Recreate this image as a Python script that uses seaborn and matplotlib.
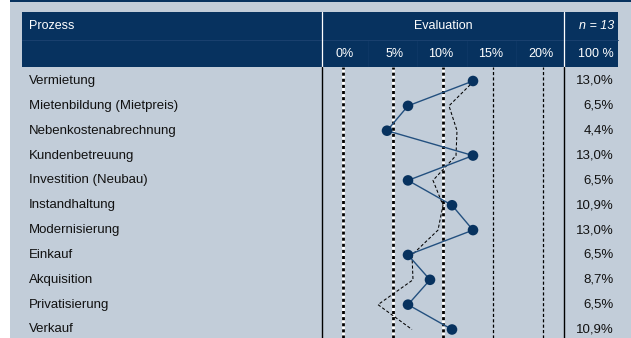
import matplotlib
matplotlib.use("Agg")
import matplotlib.pyplot as plt
from matplotlib.patches import Rectangle
from matplotlib.transforms import blended_transform_factory
import seaborn as sns
import pandas as pd

# ---- data -------------------------------------------------------------
prozesse = [
    "Vermietung",
    "Mietenbildung (Mietpreis)",
    "Nebenkostenabrechnung",
    "Kundenbetreuung",
    "Investition (Neubau)",
    "Instandhaltung",
    "Modernisierung",
    "Einkauf",
    "Akquisition",
    "Privatisierung",
    "Verkauf",
]
anteil = [13.0, 6.5, 4.4, 13.0, 6.5, 10.9, 13.0, 6.5, 8.7, 6.5, 10.9]
vergleich = [13.1, 10.6, 11.4, 11.3, 9.0, 10.0, 9.5, 6.9, 7.0, 3.5, 6.9]
ticks = [0, 5, 10, 15, 20]
tick_labels = ["0%", "5%", "10%", "15%", "20%"]
header_links = "Prozess"
header_mitte = "Evaluation"
header_n = "n = 13"
header_summe = "100 %"

# ---- style ------------------------------------------------------------
sns.set_theme(style="white")
plt.rcParams["font.family"] = ["Liberation Sans", "DejaVu Sans"]

W, H = 631, 338
BG = "#C2CDD9"
NAVY = "#07325F"
LINE = "#23507F"
FS = 9
FS_ROW = 9.5

fig = plt.figure(figsize=(W / 100, H / 100), dpi=100)
fig.patch.set_facecolor("white")

# canvas axes in pixel units (origin top-left)
cv = fig.add_axes([0, 0, 1, 1])
cv.set_xlim(0, W)
cv.set_ylim(H, 0)
cv.axis("off")

# panel background and top rule
cv.add_patch(Rectangle((10, 0), W - 10, H, color=BG, lw=0, zorder=0))
cv.add_patch(Rectangle((10, 0), W - 10, 1.6, color=NAVY, lw=0, zorder=1))

# header band
top, mid, bot = 12, 40, 67
x_left, x_eval0, x_eval1, x_right = 22, 322, 564, 618
cv.add_patch(Rectangle((x_left, top), x_right - x_left, bot - top,
                       color=NAVY, lw=0, zorder=1))
cv.plot([x_left, x_right], [mid, mid], color="#1A416F", lw=0.7, zorder=2)
for xs in [368, 417, 467, 516]:
    cv.plot([xs, xs], [mid + 1, bot - 1], color="#0F3967", lw=0.6, zorder=2)
for xs in [x_eval0, x_eval1]:
    cv.plot([xs, xs], [top, bot], color="white", lw=0.9, zorder=3)
    cv.plot([xs, xs], [bot, H], color="black", lw=1.0, zorder=3)

ty1, ty2 = 26, 54
cv.text(29, ty1, header_links, color="white", fontsize=FS, va="center", ha="left")
cv.text(443, ty1, header_mitte, color="white", fontsize=FS, va="center", ha="center")
cv.text(614, ty1, header_n, color="white", fontsize=FS, va="center", ha="right",
        style="italic")
cv.text(614, ty2, header_summe, color="white", fontsize=FS, va="center", ha="right")

# ---- evaluation column --------------------------------------------------
px_per_pct = 10.0
x0_px = 343
row0_px, row_step = 81, 24.85

ax = fig.add_axes([x_eval0 / W, 0, (x_eval1 - x_eval0) / W, (H - bot) / H])
ax.set_facecolor("none")
ax.set_xlim((x_eval0 - x0_px) / px_per_pct, (x_eval1 - x0_px) / px_per_pct)
ax.set_ylim((H - row0_px) / row_step, (bot - row0_px) / row_step)
for s in ax.spines.values():
    s.set_visible(False)
ax.set_xticks([])
ax.set_yticks([])

# vertical guides per tick
for t in ticks:
    if t <= 10:
        ax.axvline(t, color="white", lw=2.0, zorder=1)
        ax.axvline(t, color="black", lw=2.0, linestyle=(0, (1.1, 1.1)), zorder=1)
    else:
        ax.axvline(t, color="black", lw=0.9, linestyle=(0, (2.5, 1.8)), zorder=1)

# tick labels in header
for t, lab in zip(ticks, tick_labels):
    cv.text(x0_px + t * px_per_pct + 10.5, ty2, lab, color="white", fontsize=FS,
            va="center", ha="right")

df = pd.DataFrame({
    "prozess": prozesse,
    "pos": range(len(prozesse)),
    "anteil": anteil,
    "vergleich": vergleich,
})

sns.lineplot(data=df, x="vergleich", y="pos", sort=False, estimator=None,
             color="black", lw=0.75, linestyle=(0, (3, 2)), ax=ax, zorder=2)
sns.lineplot(data=df, x="anteil", y="pos", sort=False, estimator=None,
             color=LINE, lw=1.0, ax=ax, zorder=3)
sns.scatterplot(data=df, x="anteil", y="pos", color=NAVY, s=58,
                edgecolor="none", ax=ax, zorder=4)
ax.set_xlabel("")
ax.set_ylabel("")

# row labels and shares
tr = blended_transform_factory(cv.transData, ax.transData)
for i, (name, val) in enumerate(zip(prozesse, anteil)):
    ax.text(29, i, name, transform=tr, fontsize=FS_ROW, color="#111111",
            va="center", ha="left", clip_on=False)
    ax.text(614, i, f"{val:.1f}".replace(".", ",") + "%", transform=tr,
            fontsize=FS_ROW, color="#111111", va="center", ha="right", clip_on=False)

fig.savefig("out.png", dpi=100, facecolor=fig.get_facecolor())
